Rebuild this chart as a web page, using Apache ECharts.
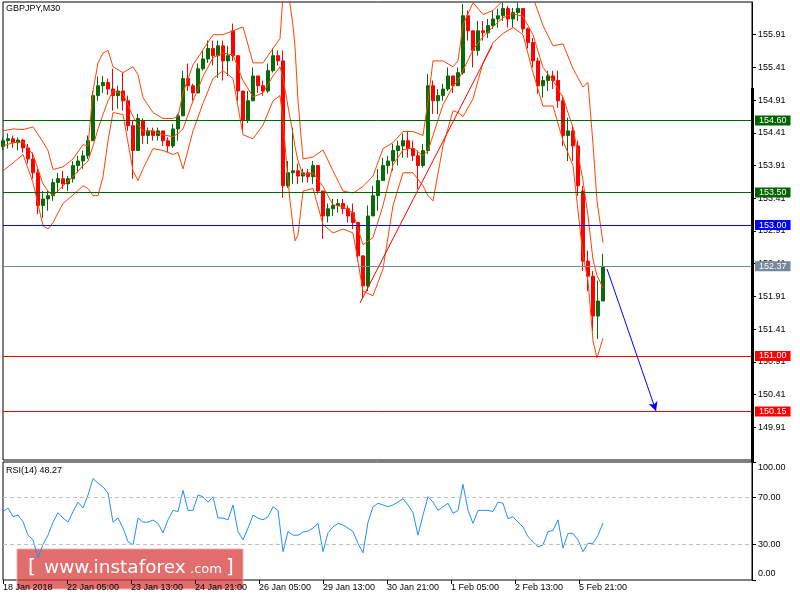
<!DOCTYPE html>
<html><head><meta charset="utf-8">
<script src="https://cdn.jsdelivr.net/npm/echarts@6/dist/echarts.min.js"></script>
<style>html,body{margin:0;padding:0;background:#fff}#c{width:800px;height:600px}</style>
</head><body><div id="c"></div>
<script>
// ---- data (x = bar index, 1 bar = 1 M30 candle; one stored candle per 5 bars) ----
const timeLabels = ['18 Jan 2018','22 Jan 05:00','23 Jan 13:00','24 Jan 21:00','26 Jan 05:00','29 Jan 13:00','30 Jan 21:00','1 Feb 05:00','2 Feb 13:00','5 Feb 21:00'];
const barsPerLabel = 64;
const barsPerCandle = 5;

const candleOpen = [154.20,154.29,154.32,154.26,154.30,154.18,154.01,153.80,153.30,153.40,
153.45,153.65,153.71,153.63,153.71,153.91,153.98,154.06,154.29,154.98,
155.13,155.18,155.08,154.98,155.05,154.90,154.52,154.14,154.60,154.37,
154.44,154.37,154.44,154.29,154.21,154.47,154.67,155.24,155.13,155.02,
155.39,155.54,155.70,155.59,155.74,155.51,155.97,155.59,155.05,154.60,
154.90,155.28,155.13,155.05,155.36,155.59,155.51,153.60,153.80,153.83,
153.75,153.80,153.74,153.91,153.52,153.14,153.25,153.30,153.33,153.25,
153.19,153.04,152.53,152.07,153.14,153.45,153.68,153.91,153.98,154.14,
154.21,154.29,154.17,154.06,153.91,154.14,155.13,154.90,154.98,155.08,
155.28,155.13,155.33,156.20,155.97,155.67,155.97,155.94,156.05,156.15,
156.20,156.31,156.15,156.25,156.31,156.00,155.79,155.51,155.13,155.21,
155.28,155.21,154.90,154.37,154.44,154.21,153.52,152.45,152.22,151.61,
151.84];
const candleClose = [154.29,154.32,154.26,154.30,154.18,154.01,153.80,153.30,153.40,153.45,
153.65,153.71,153.63,153.71,153.91,153.98,154.06,154.29,154.98,155.13,
155.18,155.08,154.98,155.05,154.90,154.52,154.14,154.63,154.37,154.44,
154.37,154.44,154.29,154.21,154.47,154.67,155.24,155.13,155.02,155.39,
155.54,155.70,155.59,155.74,155.51,155.59,155.59,155.05,154.60,154.90,
155.28,155.13,155.05,155.36,155.59,155.51,153.60,153.80,153.83,153.75,
153.80,153.74,153.91,153.52,153.14,153.25,153.30,153.33,153.25,153.14,
153.04,152.53,152.07,153.14,153.45,153.68,153.91,153.98,154.14,154.21,
154.29,154.17,154.06,153.91,154.14,155.13,154.90,154.98,155.08,155.28,
155.13,155.33,156.20,155.97,155.67,155.97,155.94,156.05,156.15,156.20,
156.31,156.15,156.25,156.31,156.00,155.79,155.51,155.13,155.21,155.28,
155.21,154.90,154.37,154.44,154.21,153.60,152.45,152.22,151.61,151.84,
152.37];
const candleLow = [154.14,154.17,154.18,154.14,154.11,153.94,153.71,153.17,153.11,153.22,
153.37,153.49,153.55,153.52,153.65,153.80,153.86,154.01,154.29,154.90,
155.02,154.99,154.75,154.78,154.75,154.44,153.71,154.14,154.24,154.24,
154.29,154.29,154.21,154.11,154.18,154.29,154.67,155.05,154.90,155.02,
155.36,155.48,155.44,155.25,155.21,155.28,155.51,154.90,154.44,154.56,
154.90,155.02,154.98,155.02,155.33,155.44,153.42,153.57,153.63,153.63,
153.65,153.65,153.63,153.48,152.79,153.04,153.14,153.19,153.17,153.04,
152.94,152.45,151.89,151.99,153.14,153.22,153.68,153.78,153.83,153.91,
154.03,154.03,153.98,153.55,153.88,154.09,154.70,154.70,154.90,155.05,
155.02,155.13,155.30,155.82,155.41,155.59,155.82,155.86,156.00,156.02,
156.12,156.02,156.02,156.12,155.94,155.70,155.41,155.01,154.95,155.05,
155.08,154.79,154.21,153.98,153.98,153.45,152.30,151.99,151.38,151.26,
151.84];
const candleHigh = [154.34,154.40,154.37,154.34,154.32,154.24,154.11,153.86,153.52,153.52,
153.71,153.80,153.83,153.75,153.98,154.06,154.14,154.37,155.05,155.27,
155.28,155.24,155.39,155.13,155.33,154.98,154.60,154.70,154.63,154.49,
154.49,154.49,154.44,154.34,154.55,154.70,155.36,155.47,155.16,155.47,
155.67,155.82,155.82,155.82,155.82,155.74,156.08,155.59,155.05,155.05,
155.41,155.28,155.21,155.47,155.70,155.67,155.67,153.98,154.49,153.94,
153.86,153.86,153.98,153.91,153.52,153.33,153.40,153.40,153.40,153.30,
153.33,153.04,152.53,153.30,153.60,153.86,154.03,154.06,154.24,154.29,
154.40,154.44,154.29,154.14,154.24,155.31,155.21,155.08,155.16,155.41,
155.28,155.41,156.38,156.28,155.97,156.12,156.12,156.15,156.28,156.31,
156.40,156.35,156.32,156.40,156.31,156.02,155.86,155.56,155.28,155.36,
155.36,155.36,154.98,154.64,154.52,154.29,153.60,152.61,152.30,152.15,
152.56];

const bandX = [0,10,20,30,40,45,50,60,70,80,85,90,95,100,105,110,120,130,135,140,
150,160,170,175,180,190,200,210,220,230,240,250,260,270,277,280,284,287,290,292,
295,300,310,320,330,340,350,360,370,380,390,400,410,420,425,430,440,450,455,460,
470,480,490,500,510,520,530,540,550,560,570,580,585,590,594,600];
const bandUpper = [154.44,154.47,154.46,154.50,154.27,154.14,153.85,153.89,154.01,154.23,
154.21,155.05,155.48,155.63,155.67,155.42,155.33,155.42,155.30,154.95,
154.72,154.63,154.63,154.66,155.02,155.45,155.68,155.91,155.91,155.97,
156.03,155.48,155.48,155.70,155.85,156.51,156.58,156.38,156.05,155.73,
154.90,154.01,154.04,154.15,153.83,153.52,153.49,153.59,153.75,154.17,
154.26,154.43,154.43,154.37,154.90,155.51,155.51,155.42,155.51,156.06,
156.40,156.22,156.28,156.43,156.45,156.45,156.48,156.05,155.74,155.77,
155.39,155.11,155.18,154.24,153.37,152.73];
const bandMiddle = [154.21,154.26,154.27,154.08,153.63,153.52,153.45,153.60,153.74,153.91,
153.98,154.21,154.47,154.69,154.90,155.05,155.01,154.66,154.53,154.44,
154.44,154.38,154.35,154.40,154.47,154.90,155.27,155.56,155.63,155.60,
155.21,154.96,155.02,155.28,155.42,155.25,154.90,154.64,154.40,154.20,
153.98,153.77,153.80,153.59,153.31,153.28,153.19,152.70,152.81,153.30,
153.92,154.15,154.18,154.06,154.14,154.37,154.84,155.12,155.21,155.36,
155.68,155.88,156.03,156.17,156.23,156.19,155.91,155.41,155.21,154.95,
154.49,153.68,153.14,152.47,152.23,152.04];
const bandLower = [153.83,153.95,154.08,153.65,152.99,152.94,153.04,153.33,153.46,153.60,
153.56,153.45,153.45,153.74,154.29,154.72,154.69,153.83,153.68,153.86,
154.17,154.14,154.08,154.11,153.86,154.44,154.86,155.24,155.36,155.24,
154.38,154.32,154.53,154.90,154.98,154.60,153.86,153.37,152.99,152.76,
152.85,153.52,153.56,153.01,152.88,152.94,152.88,151.99,151.92,152.33,
153.30,153.80,153.80,153.60,153.45,153.37,154.21,154.75,154.72,154.66,
154.93,155.48,155.79,155.93,156.02,155.91,155.33,154.82,154.82,154.29,
153.91,152.53,152.15,151.23,150.97,151.27];

const rsiValues = [58,61,53.7,55,49.4,38,34,19,30,38,
49,57,52.5,49,58,66,61,72,86,82,
79,73.5,49,52.5,44,32.5,29.7,52.5,49,49,
50.8,48,40,51,59,58,76,59,59,72,
70.6,66,70.6,52.5,52.5,51,63.6,41,34,44,
55,52.5,51,53.6,62,59,24,41,38,38,
40.6,41.5,44,48,24,40,45,48,46.6,44,
41,31,23,49,62,65,63.6,62,63.6,66,
69,63.6,57,38,55,70.6,66,59,62,65,
56.5,59,81,59,48,59,59,59,58,66,
65,52,53.6,49,45,36.7,32.5,28,29.7,41,
42,51,27,39.5,39.5,34,24,31,31,38,
48.27];
const rsiLast = 48.27;
const rsiLevels = [70, 30];
const rsiTickValues = [0, 30, 70, 100];

const hLevels = [154.60, 153.50, 153.00, 152.37, 151.00, 150.15];
const hColors = ['#006400', '#006400', '#0000ff', '#778899', '#ff0000', '#ff0000'];
// trend lines: [bar index, price]
const supportLine = [[357, 151.81], [489, 155.74]];
const arrowLine = [[604, 152.33], [653, 150.16]];

// ---- chart ----
const FONT = '"Liberation Sans", Arial, sans-serif';
const chart = echarts.init(document.getElementById('c'), null, {renderer: 'canvas'});

const candleData = candleOpen.map((o, i) => [i * barsPerCandle, o, candleClose[i], candleLow[i], candleHigh[i]]);
const bandSeries = (arr) => ({
  type: 'line', xAxisIndex: 0, yAxisIndex: 0, showSymbol: false, silent: true, z: 3,
  data: bandX.map((x, i) => [x, arr[i]]),
  lineStyle: {color: '#ff4500', width: 1}, itemStyle: {color: '#ff4500'}, clip: true
});
const labelTicks = timeLabels.map((_, i) => i * barsPerLabel);

const option = {
  animation: false,
  backgroundColor: '#ffffff',
  grid: [
    {left: 3, top: 2, width: 749, height: 458, show: true, borderColor: '#000', borderWidth: 1, backgroundColor: '#fff'},
    {left: 3, top: 462, width: 749, height: 118, show: true, borderColor: '#000', borderWidth: 1, backgroundColor: '#fff'}
  ],
  xAxis: [
    {type: 'value', gridIndex: 0, min: 0, max: 749, show: false, axisLine: {onZero: false}},
    {type: 'value', gridIndex: 1, min: 0, max: 749, interval: barsPerLabel,
      axisLine: {show: false, onZero: false}, splitLine: {show: false},
      axisTick: {show: true, length: 4, lineStyle: {color: '#000'}, customValues: labelTicks},
      axisLabel: {customValues: labelTicks, align: 'left', fontSize: 9, fontFamily: FONT, color: '#000', margin: 3,
        formatter: v => timeLabels[Math.round(v / barsPerLabel)] || ''}}
  ],
  yAxis: [
    {type: 'value', gridIndex: 0, position: 'right', min: 149.41, max: 156.41, interval: 0.5,
      axisLine: {show: true, onZero: false, lineStyle: {color: '#000'}}, splitLine: {show: false},
      axisTick: {show: true, length: 4, lineStyle: {color: '#000'}},
      axisLabel: {showMinLabel: false, showMaxLabel: false, fontSize: 9, fontFamily: FONT, color: '#000', margin: 6,
        formatter: v => v.toFixed(2)}},
    {type: 'value', gridIndex: 1, position: 'right', min: 0, max: 100,
      axisLine: {show: true, onZero: false, lineStyle: {color: '#000'}}, splitLine: {show: false},
      axisTick: {show: true, length: 4, lineStyle: {color: '#000'}, customValues: rsiTickValues},
      axisLabel: {customValues: rsiTickValues, fontSize: 9, fontFamily: FONT, color: '#000', margin: 6,
        formatter: v => v === 100 ? '{t|' + v.toFixed(2) + '}' : (v === 0 ? '{b|' + v.toFixed(2) + '}' : v.toFixed(2)),
        rich: {t: {padding: [12, 0, 0, 0], fontSize: 9, fontFamily: FONT}, b: {padding: [0, 0, 12, 0], fontSize: 9, fontFamily: FONT}}}}
  ],
  series: [
    {
      type: 'candlestick', xAxisIndex: 0, yAxisIndex: 0, barWidth: 4, z: 2,
      encode: {x: 0, y: [1, 2, 3, 4]},
      data: candleData,
      itemStyle: {color: '#0a6a0a', color0: '#ff0000', borderColor: '#0a6a0a', borderColor0: '#ff0000', borderWidth: 1},
      markLine: {
        silent: true, symbol: 'none', animation: false, precision: 2,
        data: hLevels.map((v, i) => ({
          yAxis: v,
          lineStyle: {color: hColors[i], width: 1, type: 'solid'},
          label: {show: true, position: 'end', distance: 3, formatter: v.toFixed(2), color: '#fff',
            backgroundColor: hColors[i], padding: [1, 4, 0, 4], fontSize: 9, fontFamily: FONT, lineHeight: 9}
        })).concat([
          [{coord: supportLine[0], symbol: 'none', lineStyle: {color: '#ff0000', width: 1, type: 'solid'}, label: {show: false}},
           {coord: supportLine[1], symbol: 'none'}],
          [{coord: arrowLine[0], symbol: 'none', lineStyle: {color: '#0000ff', width: 1, type: 'solid'}, label: {show: false}},
           {coord: arrowLine[1], symbol: 'arrow', symbolSize: [7, 9]}]
        ])
      }
    },
    bandSeries(bandUpper),
    bandSeries(bandMiddle),
    bandSeries(bandLower),
    {
      type: 'line', xAxisIndex: 1, yAxisIndex: 1, showSymbol: false, silent: true,
      data: rsiValues.map((v, i) => [i * barsPerCandle, v]),
      lineStyle: {color: '#1e90ff', width: 1}, itemStyle: {color: '#1e90ff'},
      markLine: {silent: true, symbol: 'none', label: {show: false},
        lineStyle: {color: '#c0c0c0', type: [4, 3], width: 1},
        data: rsiLevels.map(v => ({yAxis: v}))}
    }
  ],
  graphic: [
    {type: 'text', left: 6, top: 4, z: 100, style: {text: 'GBPJPY,M30', font: '9px ' + FONT, fill: '#000'}},
    {type: 'text', left: 6, top: 466, z: 100, style: {text: 'RSI(14) ' + rsiLast.toFixed(2), font: '9px ' + FONT, fill: '#000'}},
    {type: 'rect', z: 100, shape: {x: 751, y: 88, width: 3, height: 374}, style: {fill: '#000'}},
    {type: 'group', z: 200, children: [
      {type: 'rect', shape: {x: 17, y: 549, width: 226, height: 40}, style: {fill: 'rgba(214,52,52,0.72)', stroke: 'rgba(240,170,170,0.9)', lineWidth: 1}},
      {type: 'text', x: 28, y: 568, style: {text: '[', font: '20px "DejaVu Sans"', fill: '#fff', verticalAlign: 'middle'}},
      {type: 'text', x: 44, y: 568, style: {text: 'www.instaforex', font: '18.5px "DejaVu Sans"', fill: '#fff', verticalAlign: 'middle'}},
      {type: 'text', x: 190, y: 570, style: {text: '.com', font: '13px "DejaVu Sans"', fill: '#fff', verticalAlign: 'middle'}},
      {type: 'text', x: 226, y: 568, style: {text: ']', font: '20px "DejaVu Sans"', fill: '#fff', verticalAlign: 'middle'}}
    ]}
  ]
};
chart.setOption(option);
</script>
</body></html>
